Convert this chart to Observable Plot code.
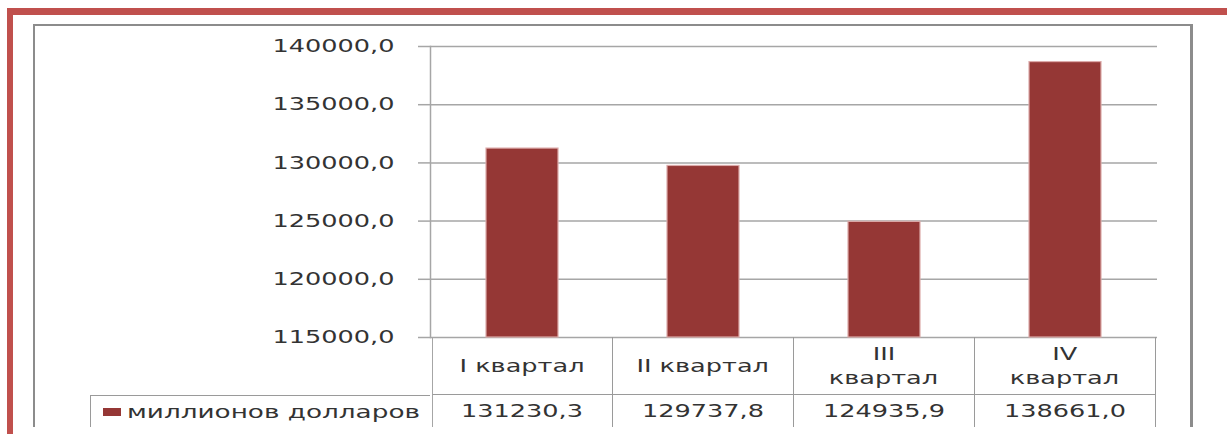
<!DOCTYPE html>
<html>
<head>
<meta charset="utf-8">
<script src="https://cdn.jsdelivr.net/npm/d3@7"></script>
<script src="https://cdn.jsdelivr.net/npm/@observablehq/plot@0.6"></script>
<style>
  html, body { margin: 0; padding: 0; background: #fff; }
  body { width: 1227px; height: 434px; position: relative; overflow: hidden; font-family: "DejaVu Sans", sans-serif; color: #333; }
  #clip { position: absolute; left: 0; top: 0; width: 1227px; height: 427px; overflow: hidden; }
  #box { position: absolute; left: 33px; top: 24px; width: 1160px; height: 600px; box-sizing: border-box;
         border: 2px solid #8c8c8c; border-right-width: 3px; }
  #chart { position: absolute; left: 0; top: 0; }
  .red { position: absolute; background: #c0504d; }
  .cell { position: absolute; box-sizing: border-box; display: flex; flex-direction: column;
          align-items: center; justify-content: center; font-size: 18px; color: #333; }
  .cell span { display: block; line-height: 24px; transform: scaleX(1.42); transform-origin: center; white-space: nowrap; }
  .legend { justify-content: center; align-items: flex-start; }
  .legend .row { display: flex; align-items: center; }
  .legend .sw { width: 18px; height: 8px; background: #953735; margin-left: 12px; margin-right: 6px; }
  .legend .lbl { display: block; transform: scaleX(1.46); transform-origin: left center; white-space: nowrap; font-size: 18px; }
</style>
</head>
<body>
<div id="clip">
  <div id="box"></div>
  <div id="chart"></div>
</div>
<div class="red" style="left:7px; top:8px; width:1230px; height:7px;"></div>
<div class="red" style="left:7px; top:8px; width:6px; height:430px;"></div>
<script>
// ---- data ----
const categories = ["I квартал", "II квартал", "III квартал", "IV квартал"];
const categoryLines = [["I квартал"], ["II квартал"], ["III", "квартал"], ["IV", "квартал"]];
const values = [131230.3, 129737.8, 124935.9, 138661.0];
const seriesName = "миллионов долларов";
const yTicks = [115000, 120000, 125000, 130000, 135000, 140000];
const yDomain = [115000, 140000];

// ---- styles ----
const barColor = "#953735";
const gridColor = "#a6a6a6";
const lineColor = "#9a9a9a";
const textColor = "#333";
const fmt = v => v.toFixed(1).replace(".", ",");

const data = categories.map((c, i) => ({category: c, value: values[i]}));

const chart = Plot.plot({
  width: 1227,
  height: 434,
  marginLeft: 430,
  marginRight: 70,
  marginTop: 46,
  marginBottom: 97,
  style: {background: "transparent", fontFamily: "DejaVu Sans", overflow: "visible"},
  x: {domain: categories, paddingInner: 0.604, paddingOuter: 0.302, axis: null},
  y: {domain: yDomain, label: null},
  marks: [
    Plot.gridY(yTicks, {stroke: gridColor, strokeOpacity: 1, strokeWidth: 1.5}),
    Plot.barY(data, {x: "category", y1: yDomain[0], y2: "value", fill: barColor, stroke: "#dcaaa9", strokeWidth: 1.2}),
    Plot.axisY({ticks: yTicks, tickFormat: fmt, tickSize: 12, tickPadding: 24, fontSize: 18,
                stroke: gridColor, strokeWidth: 1.5, fill: textColor, label: null}),
    Plot.frame({anchor: "left", stroke: gridColor, strokeWidth: 1.5})
  ]
});
document.getElementById("chart").appendChild(chart);

// stretch tick labels horizontally like the original rendering
chart.querySelectorAll('g[aria-label="y-axis tick label"] text').forEach(t => {
  const w = t.getComputedTextLength();
  t.setAttribute("lengthAdjust", "spacingAndGlyphs");
  t.setAttribute("textLength", w * 1.42);
});

// ---- data table under the plot, aligned to the plot's own scales ----
const xs = chart.scale("x"), ys = chart.scale("y");
const step = xs.step, bw = xs.bandwidth;
const tableTop = ys.apply(yDomain[0]);
const headH = 58, rowH = 32;
const clip = document.getElementById("clip");
function cell(left, top, w, h, lines, borders) {
  const d = document.createElement("div");
  d.className = "cell";
  Object.assign(d.style, {left: left + "px", top: top + "px", width: w + "px", height: h + "px"}, borders);
  lines.forEach(s => { const sp = document.createElement("span"); sp.textContent = s; d.appendChild(sp); });
  clip.appendChild(d);
  return d;
}
const b = "1px solid " + lineColor;
categories.forEach((c, i) => {
  const left = xs.apply(c) - (step - bw) / 2;
  const extra = i === 0 ? {borderLeft: "1.5px solid " + gridColor} : {};
  cell(left, tableTop, step, headH, categoryLines[i], Object.assign({borderRight: b, borderBottom: b}, extra));
  cell(left, tableTop + headH, step, rowH, [fmt(values[i])], Object.assign({borderRight: b}, extra));
});
// legend cell
const legLeft = 90, plotLeft = xs.range[0];
const leg = document.createElement("div");
leg.className = "cell legend";
Object.assign(leg.style, {left: legLeft + "px", top: (tableTop + headH) + "px", width: (plotLeft - legLeft) + "px",
  height: rowH + "px", borderTop: b, borderLeft: b});
leg.innerHTML = '<div class="row"><div class="sw"></div><span class="lbl"></span></div>';
leg.querySelector(".lbl").textContent = seriesName;
clip.appendChild(leg);
</script>
</body>
</html>
